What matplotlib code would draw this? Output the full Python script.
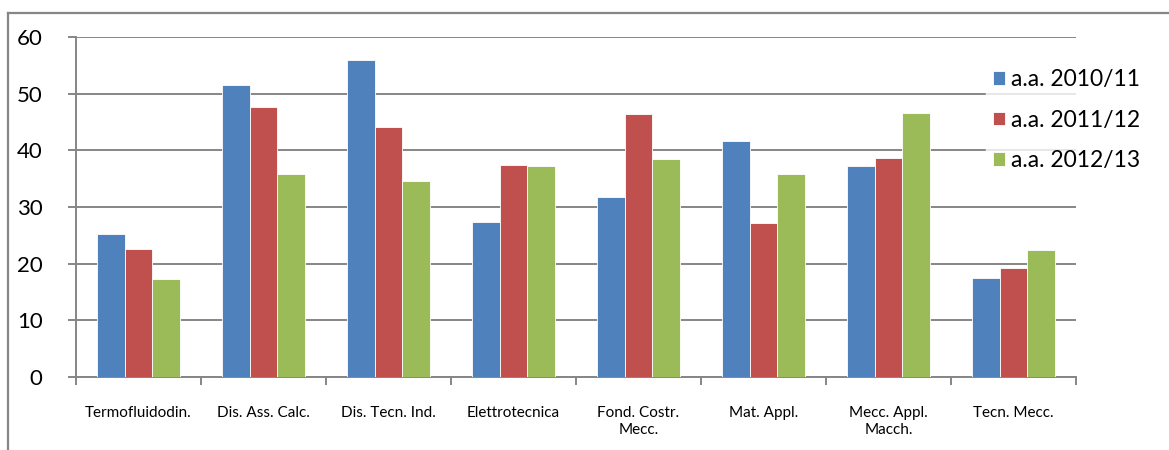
"""Grouped bar chart - courses by academic year"""
import matplotlib.pyplot as plt
import numpy as np
from matplotlib.lines import Line2D

plt.rcParams['font.family'] = ['Lato', 'DejaVu Sans']

BLUE = '#4F81BD'
RED = '#C0504D'
GREEN = '#9BBB59'
GRID = '#868686'

categories = ['Termofluidodin.', 'Dis. Ass. Calc.', 'Dis. Tecn. Ind.', 'Elettrotecnica',
              'Fond. Costr.\nMecc.', 'Mat. Appl.', 'Mecc. Appl.\nMacch.', 'Tecn. Mecc.']
series_labels = ['a.a. 2010/11', 'a.a. 2011/12', 'a.a. 2012/13']
y2010 = [25.2, 51.6, 56.0, 27.4, 31.8, 41.6, 37.2, 17.5]
y2011 = [22.6, 47.6, 44.2, 37.4, 46.5, 27.2, 38.6, 19.2]
y2012 = [17.3, 35.9, 34.6, 37.2, 38.5, 35.9, 46.6, 22.5]
yticks = [0, 10, 20, 30, 40, 50, 60]

fig = plt.figure(figsize=(11.69, 4.5), dpi=100)
ax = fig.add_axes([76 / 1169, 1 - 377 / 450, 1000 / 1169, 340 / 450])

x = np.arange(len(categories))
width = 0.222
for i, (vals, color, lab) in enumerate(zip([y2010, y2011, y2012], [BLUE, RED, GREEN], series_labels)):
    ax.bar(x + (i - 1) * width, vals, width, color=color, label=lab,
           edgecolor='white', linewidth=0.6, zorder=3)

ax.set_xlim(-0.5, len(categories) - 0.5)
ax.set_ylim(0, 60)
ax.set_yticks(yticks)
ax.yaxis.grid(True, color=GRID, linewidth=1.4, zorder=0)
ax.set_axisbelow(True)

# labels at centres, tick marks at category boundaries
ax.set_xticks(x)
ax.set_xticklabels(categories, fontsize=11, linespacing=1.3)
ax.tick_params(axis='x', which='major', length=0, pad=21)
ax.set_xticks(np.arange(-0.5, len(categories)), minor=True)
ax.tick_params(axis='x', which='minor', length=6, width=1.4, color=GRID)
ax.tick_params(axis='y', length=6, width=1.4, color=GRID, labelsize=16, pad=18)

for side in ['top', 'right']:
    ax.spines[side].set_visible(False)
for side in ['left', 'bottom']:
    ax.spines[side].set_color(GRID)
    ax.spines[side].set_linewidth(1.4)

leg = fig.legend(loc='upper left', bbox_to_anchor=(986 / 1169, 1 - 62 / 450),
                 frameon=True, fontsize=16.5, handlelength=0.55, handleheight=0.55,
                 handletextpad=0.25, labelspacing=0.86, borderpad=0.3, borderaxespad=0)
leg.get_frame().set_facecolor('white')
leg.get_frame().set_edgecolor('white')
leg.get_frame().set_boxstyle('square', pad=0)

# outer chart frame (left and top edges visible)
fig.add_artist(Line2D([8 / 1169, 8 / 1169], [0, 1 - 13 / 450], color=GRID, linewidth=1.6))
fig.add_artist(Line2D([8 / 1169, 1], [1 - 13 / 450, 1 - 13 / 450], color=GRID, linewidth=1.6))

plt.savefig('out.png', dpi=100)
plt.close()
